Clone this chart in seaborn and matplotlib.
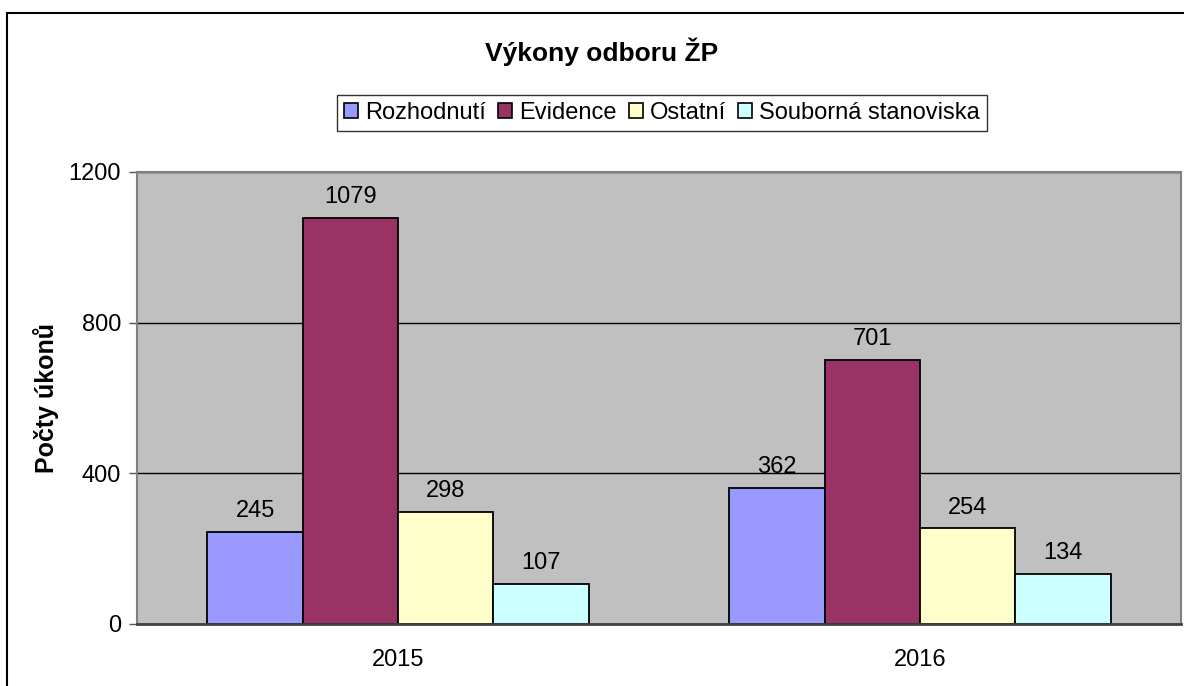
import matplotlib
matplotlib.use("Agg")
import matplotlib.pyplot as plt
import seaborn as sns
import pandas as pd
from matplotlib.patches import Patch
from matplotlib.lines import Line2D

years = ["2015", "2016"]
series = ["Rozhodnutí", "Evidence", "Ostatní", "Souborná stanoviska"]
rozhodnuti = [245, 362]
evidence = [1079, 701]
ostatni = [298, 254]
souborna = [107, 134]
colors = ["#9999FF", "#993366", "#FFFFCC", "#CCFFFF"]
yticks = [0, 400, 800, 1200]

values = {"Rozhodnutí": rozhodnuti, "Evidence": evidence,
          "Ostatní": ostatni, "Souborná stanoviska": souborna}
rows = []
for s in series:
    for y, v in zip(years, values[s]):
        rows.append({"year": y, "series": s, "value": v})
df = pd.DataFrame(rows)

sns.set_theme(style="white")
plt.rcParams["font.family"] = ["Liberation Sans", "DejaVu Sans"]
plt.rcParams["text.color"] = "black"
plt.rcParams["axes.labelcolor"] = "black"
plt.rcParams["xtick.color"] = "black"
plt.rcParams["ytick.color"] = "black"

fig = plt.figure(figsize=(11.84, 6.86), dpi=100)
ax = fig.add_axes([137/1184, 1-624/686, (1181-137)/1184, (624-172)/686])
ax.set_facecolor("#C0C0C0")

sns.barplot(data=df, x="year", y="value", hue="series", order=years,
            hue_order=series, palette=dict(zip(series, colors)),
            saturation=1, width=0.73, gap=0, edgecolor="black",
            linewidth=1.3, legend=False, ax=ax, errorbar=None)

for c in ax.containers:
    ax.bar_label(c, labels=[f"{int(v)}" for v in c.datavalues],
                 padding=7, fontsize=17, color="black")

ax.set_ylim(0, 1200)
ax.set_xlim(-0.5, 1.5)
ax.set_yticks(yticks)
ax.set_yticklabels([str(t) for t in yticks], fontsize=17)
ax.yaxis.grid(True, color="black", linewidth=1)
ax.set_axisbelow(True)
ax.set_xticks([0, 1])
ax.set_xticklabels(years, fontsize=17)
ax.set_xticks([-0.5, 0.5, 1.5], minor=True)
ax.tick_params(axis="x", which="major", length=0, pad=18, labelcolor="black")
ax.tick_params(axis="x", which="minor", length=7, width=1.5, color="#555555")
ax.tick_params(axis="y", which="major", length=6, width=1, color="#555555",
               left=True, pad=5.5, labelcolor="black")
ax.set_xlabel("")
ax.set_ylabel("Počty úkonů", fontsize=18, fontweight="bold", color="black")
ax.yaxis.set_label_coords(-0.075, 0.5)

for side in ["top", "right", "left"]:
    ax.spines[side].set_visible(True)
    ax.spines[side].set_color("#808080")
    ax.spines[side].set_linewidth(1.5)
ax.spines["bottom"].set_color("#404040")
ax.spines["bottom"].set_linewidth(2)

fig.text(602/1184, 1-52/686, "Výkony odboru ŽP", ha="center", va="center",
         fontsize=19, fontweight="bold", color="black")

handles = [Patch(facecolor=c, edgecolor="black", linewidth=1.2) for c in colors]
leg = fig.legend(handles, series, loc="center", bbox_to_anchor=(662/1184, 1-113/686),
                 ncol=4, fontsize=17, frameon=True, fancybox=False,
                 handlelength=0.6, handleheight=0.6, handletextpad=0.3,
                 columnspacing=0.5, borderpad=0.3)
leg.get_frame().set_edgecolor("black")
leg.get_frame().set_linewidth(1)
for t in leg.get_texts():
    t.set_color("black")

fig.add_artist(Line2D([7/1184, 7/1184], [0, 1-13/686], transform=fig.transFigure,
                      color="black", linewidth=1.5))
fig.add_artist(Line2D([7/1184, 1], [1-13/686, 1-13/686], transform=fig.transFigure,
                      color="black", linewidth=1.5))

fig.savefig("out.png", dpi=100)
